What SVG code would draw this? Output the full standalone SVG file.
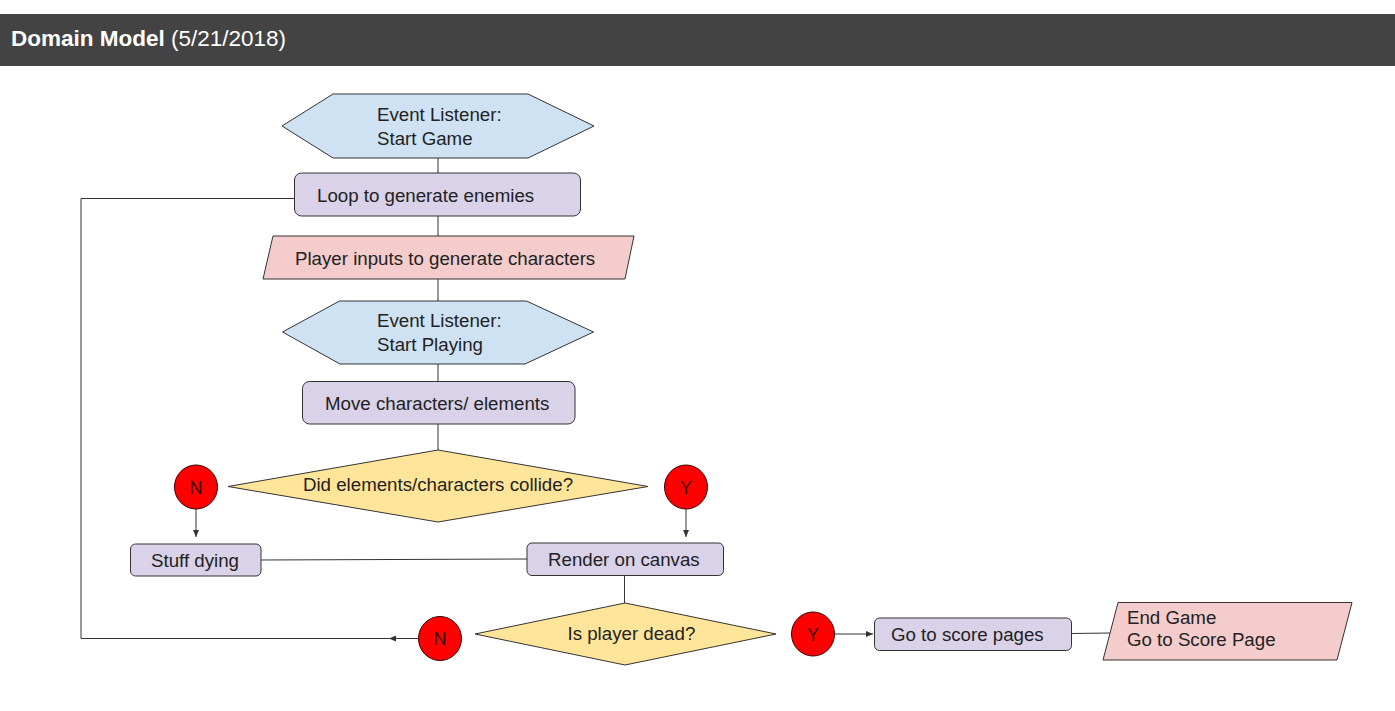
<svg xmlns="http://www.w3.org/2000/svg" width="1395" height="711" viewBox="0 0 1395 711">
<defs>
<style>
text{font-family:"Liberation Sans",Arial,sans-serif;font-size:18.7px;fill:#222}
.hdr{font-size:22.5px;fill:#fff}
.hex{fill:#cfe2f3;stroke:#333;stroke-width:1}
.proc{fill:#d9d2e9;stroke:#333;stroke-width:1}
.io{fill:#f4cccc;stroke:#333;stroke-width:1}
.dec{fill:#ffe599;stroke:#333;stroke-width:1}
.yn{fill:#ff0000;stroke:#3a0000;stroke-width:1}
.ynt{fill:#3a0000;font-size:18px}
.conn path{fill:none;stroke:#333;stroke-width:1}
</style>
<marker id="arr" viewBox="0 0 8 8" refX="7" refY="4" markerWidth="8" markerHeight="8" markerUnits="userSpaceOnUse" orient="auto">
<path d="M0,1 L7,4 L0,7 Z" fill="#333"/>
</marker>
</defs>
<rect width="1395" height="711" fill="#fff"/>
<g id="header">
<rect x="0" y="14" width="1395" height="52" fill="#434343"/>
<text class="hdr" x="11" y="46"><tspan font-weight="bold">Domain Model</tspan> (5/21/2018)</text>
</g>
<g id="connectors" class="conn">
<path d="M438,158 V173"/>
<path d="M438,216 V236"/>
<path d="M438,279 V301"/>
<path d="M438,364 V382"/>
<path d="M438,424 V450"/>
<path d="M196,509 V537" marker-end="url(#arr)"/>
<path d="M686,509 V537" marker-end="url(#arr)"/>
<path d="M261,560 L527,559"/>
<path d="M624.5,575 V603"/>
<path d="M835,634 H873" marker-end="url(#arr)"/>
<path d="M1072,633.5 L1110,633"/>
<path d="M294,198.5 H81 V638.5 H392"/>
<path d="M418,638.5 H389" marker-end="url(#arr)"/>
</g>
<g id="start-game">
<polygon class="hex" points="282,126 333,94 528,94 594,126 528,158 333,158"/>
<text x="377" y="121">Event Listener:</text>
<text x="377" y="145">Start Game</text>
</g>
<g id="loop-enemies">
<rect class="proc" x="294.5" y="173" width="286" height="43" rx="7"/>
<text x="317" y="201.5">Loop to generate enemies</text>
</g>
<g id="player-inputs">
<polygon class="io" points="273,236 634,236 625,279 263,279"/>
<text x="295" y="265">Player inputs to generate characters</text>
</g>
<g id="start-playing">
<polygon class="hex" points="282.5,332 339.5,301 526.5,301 593.5,332 525,364 340,364"/>
<text x="377" y="327">Event Listener:</text>
<text x="377" y="351">Start Playing</text>
</g>
<g id="move">
<rect class="proc" x="302.5" y="381.5" width="272.5" height="42.5" rx="7"/>
<text x="325" y="410">Move characters/ elements</text>
</g>
<g id="collide">
<polygon class="dec" points="228,486.5 438,450 648,486.5 438,522"/>
<text x="438" y="491" text-anchor="middle">Did elements/characters collide?</text>
</g>
<g id="n1">
<ellipse class="yn" cx="196" cy="487" rx="21.5" ry="22"/>
<text class="ynt" x="196" y="493.5" text-anchor="middle">N</text>
</g>
<g id="y1">
<ellipse class="yn" cx="686" cy="487" rx="21.5" ry="22"/>
<text class="ynt" x="686" y="493.5" text-anchor="middle">Y</text>
</g>
<g id="stuff-dying">
<rect class="proc" x="130.5" y="544" width="130.5" height="32" rx="5"/>
<text x="151" y="566.5">Stuff dying</text>
</g>
<g id="render">
<rect class="proc" x="527" y="543" width="196.5" height="32.5" rx="5"/>
<text x="548" y="566">Render on canvas</text>
</g>
<g id="dead">
<polygon class="dec" points="475,634 625,603 776,634 625,665"/>
<text x="567.5" y="639.5">Is player dead?</text>
</g>
<g id="n2">
<ellipse class="yn" cx="440" cy="638.5" rx="21.5" ry="22"/>
<text class="ynt" x="440" y="645" text-anchor="middle">N</text>
</g>
<g id="y2">
<ellipse class="yn" cx="813" cy="634" rx="21.5" ry="22"/>
<text class="ynt" x="813" y="640.5" text-anchor="middle">Y</text>
</g>
<g id="score-pages">
<rect class="proc" x="874.5" y="618" width="197" height="32.5" rx="5"/>
<text x="891" y="641">Go to score pages</text>
</g>
<g id="end-game">
<polygon class="io" points="1118,602.5 1352,602.5 1337,660 1103,660"/>
<text x="1127" y="623.5">End Game</text>
<text x="1127" y="646">Go to Score Page</text>
</g>
</svg>
